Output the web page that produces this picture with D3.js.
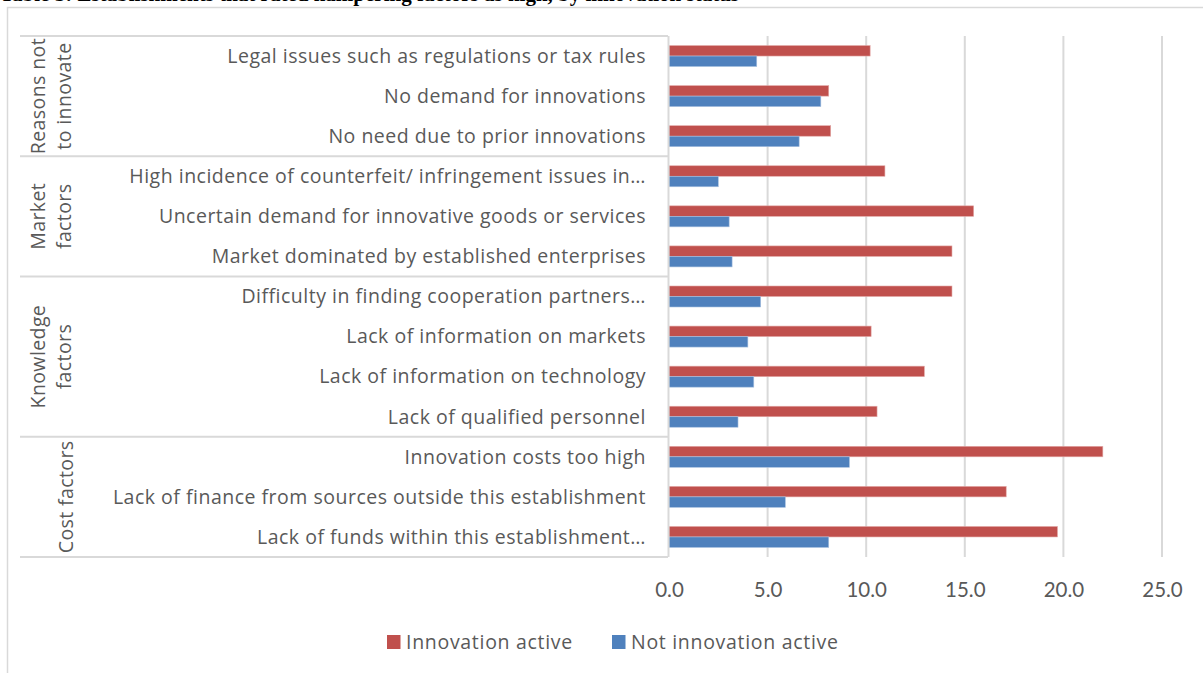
<!DOCTYPE html>
<html>
<head>
<meta charset="utf-8">
<script src="https://cdn.jsdelivr.net/npm/d3@7"></script>
<style>
  body { margin: 0; background: #fff; }
  text { font-family: "Open Sans", Lato, sans-serif; fill: #595959; }
</style>
</head>
<body>
<div id="chart"></div>
<script>
// data
var categories = [
  "Legal issues such as regulations or tax rules",
  "No demand for innovations",
  "No need due to prior innovations",
  "High incidence of counterfeit/ infringement issues in\u2026",
  "Uncertain demand for innovative goods or services",
  "Market dominated by established enterprises",
  "Difficulty in finding cooperation partners\u2026",
  "Lack of information on markets",
  "Lack of information on technology",
  "Lack of qualified personnel",
  "Innovation costs too high",
  "Lack of finance from sources outside this establishment",
  "Lack of funds within this establishment\u2026"
];
var groups = [
  { lines: ["Reasons not", "to innovate"], size: 3 },
  { lines: ["Market", "factors"], size: 3 },
  { lines: ["Knowledge", "factors"], size: 4 },
  { lines: ["Cost factors"], size: 3 }
];
var seriesNames = ["Innovation active", "Not innovation active"];
var innovationActive = [10.2, 8.1, 8.2, 10.95, 15.45, 14.35, 14.35, 10.25, 12.95, 10.55, 22.0, 17.1, 19.7];
var notInnovationActive = [4.45, 7.7, 6.6, 2.5, 3.05, 3.2, 4.65, 4.0, 4.3, 3.5, 9.15, 5.9, 8.1];
var xTicks = [0, 5, 10, 15, 20, 25];

var width = 1203, height = 673;
var colors = ["#C0504D", "#4F81BD"];
var grid = "#D9D9D9";

var svg = d3.select("#chart").append("svg")
    .attr("width", width)
    .attr("height", height);

// title, mostly cut off at the top of the picture
svg.append("text")
    .attr("x", 0).attr("y", 0.5)
    .style("font-family", "'Liberation Serif', serif")
    .style("font-weight", "bold")
    .style("font-size", "21px")
    .style("fill", "#000")
    .text("Table 5: Establishments that rated hampering factors as high, by innovation status");

// outer chart border
svg.append("path")
    .attr("d", "M7.5," + height + "V7.5H" + width)
    .attr("fill", "none")
    .attr("stroke", grid)
    .attr("stroke-width", 1.5);

var x = d3.scaleLinear().domain([0, 25]).range([669, 1162]);
var y = d3.scaleBand().domain(categories).range([36, 557])
    .paddingInner(0.476).paddingOuter(0.238);
var ySub = d3.scaleBand().domain([0, 1]).range([0, y.bandwidth()]);

// gridlines
svg.append("g")
    .selectAll("line")
    .data(xTicks.slice(1))
  .enter().append("line")
    .attr("x1", function(d) { return x(d); })
    .attr("x2", function(d) { return x(d); })
    .attr("y1", 36).attr("y2", 557)
    .attr("stroke", grid)
    .attr("stroke-width", 2);

// bars
var series = [innovationActive, notInnovationActive];
series.forEach(function(vals, s) {
  svg.append("g")
      .selectAll("rect")
      .data(vals)
    .enter().append("rect")
      .attr("x", x(0))
      .attr("y", function(d, i) { return y(categories[i]) + ySub(s); })
      .attr("width", function(d) { return x(d) - x(0); })
      .attr("height", ySub.bandwidth())
      .attr("fill", colors[s])
      .attr("stroke", s == 0 ? "#E3A9A7" : "#A9C1E0")
      .attr("stroke-width", 0.6);
});

// category axis line
svg.append("line")
    .attr("x1", 668.5).attr("x2", 668.5)
    .attr("y1", 36).attr("y2", 557)
    .attr("stroke", grid)
    .attr("stroke-width", 2);

// category labels
svg.append("g")
    .selectAll("text")
    .data(categories)
  .enter().append("text")
    .attr("x", 646)
    .attr("y", function(d) { return y(d) + y.bandwidth() / 2; })
    .attr("dy", "0.35em")
    .attr("text-anchor", "end")
    .style("font-size", "19.5px")
    .style("letter-spacing", "0.5px")
    .text(function(d) { return d; });

// group dividers and labels
var start = 0;
var bounds = [0];
groups.forEach(function(g) { start += g.size; bounds.push(start); });
var step = y.step();
var rowTop = function(k) { return 36 + k * step; };

svg.append("g")
    .selectAll("line")
    .data(bounds)
  .enter().append("line")
    .attr("x1", 20).attr("x2", 668)
    .attr("y1", function(k) { return rowTop(k); })
    .attr("y2", function(k) { return rowTop(k); })
    .attr("stroke", grid)
    .attr("stroke-width", 2);

groups.forEach(function(g, gi) {
  var cy = (rowTop(bounds[gi]) + rowTop(bounds[gi + 1])) / 2;
  var cx = g.lines.length == 1 ? 66 : 51;
  var t = svg.append("text")
      .attr("transform", "translate(" + cx + "," + cy + ")rotate(-90)")
      .attr("text-anchor", "middle")
      .style("font-size", "19.5px")
      .style("letter-spacing", "0.4px");
  g.lines.forEach(function(line, li) {
    t.append("tspan")
        .attr("x", 0)
        .attr("y", (li - (g.lines.length - 1) / 2) * 26)
        .attr("dy", "0.35em")
        .text(line);
  });
});

// value axis
var xAxis = d3.axisBottom(x)
    .tickValues(xTicks)
    .tickFormat(d3.format(".1f"))
    .tickSize(0)
    .tickPadding(0);
var ax = svg.append("g")
    .attr("transform", "translate(0,582)")
    .call(xAxis);
ax.select(".domain").remove();
ax.selectAll("text")
    .style("font-family", "Lato, sans-serif")
    .style("font-size", "20.5px")
    .style("fill", "#595959");

// legend
var legendX = [387, 612];
var legend = svg.append("g")
    .selectAll("g")
    .data(seriesNames)
  .enter().append("g")
    .attr("transform", function(d, i) { return "translate(" + legendX[i] + ",635)"; });
legend.append("rect")
    .attr("width", 13.5).attr("height", 14)
    .attr("fill", function(d, i) { return colors[i]; });
legend.append("text")
    .attr("x", 19).attr("y", 7)
    .attr("dy", "0.36em")
    .style("font-size", "19.5px")
    .style("letter-spacing", "0.7px")
    .text(function(d) { return d; });
</script>
</body>
</html>
